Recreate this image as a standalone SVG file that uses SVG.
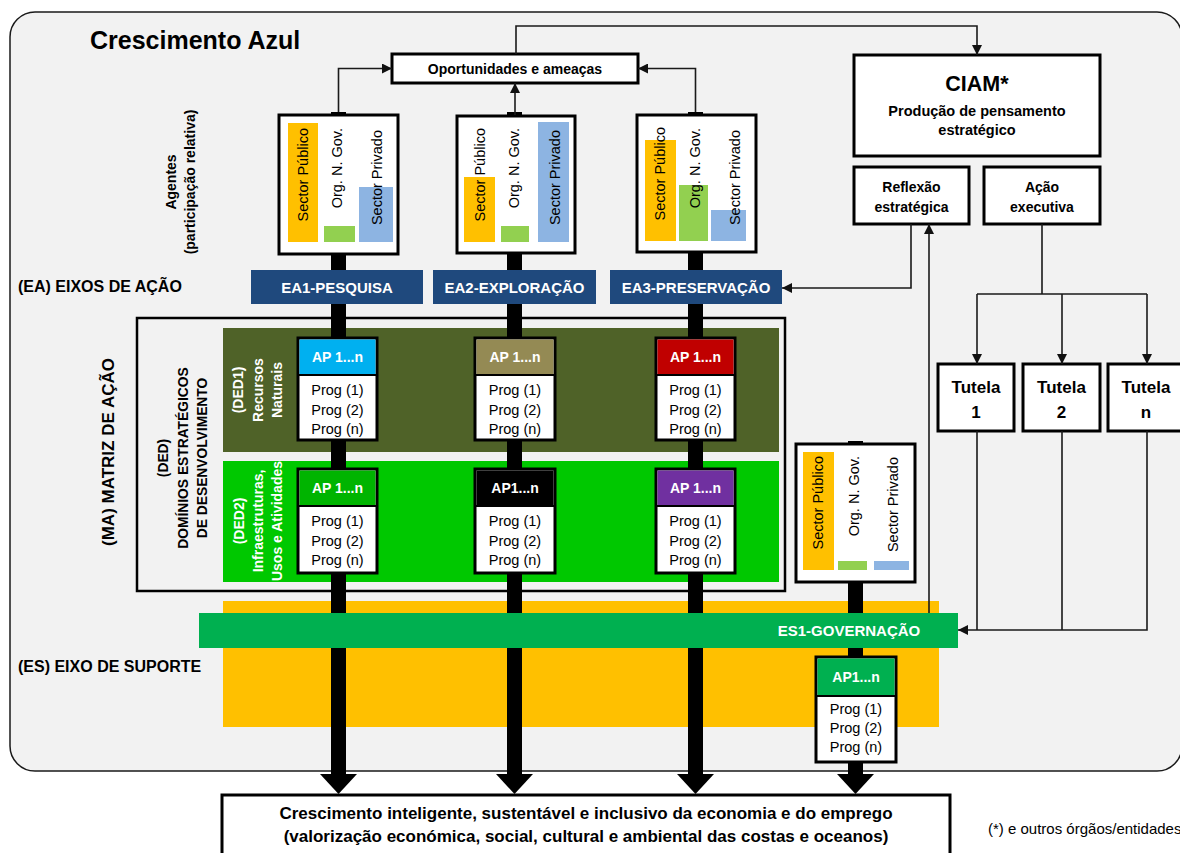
<svg xmlns="http://www.w3.org/2000/svg" width="1180" height="853" viewBox="0 0 1180 853">
<defs>
<marker id="ah" markerUnits="userSpaceOnUse" markerWidth="10" markerHeight="10" refX="10" refY="5" orient="auto">
<path d="M0,0 L10,5 L0,10 z" fill="#111"/>
</marker>
</defs>
<style>
text{font-family:"Liberation Sans",Arial,sans-serif;fill:#000}
.b{font-weight:bold}
.w{fill:#fff}
.box{fill:#fff;stroke:#000;stroke-width:3}
.ln{fill:none;stroke:#1a1a1a;stroke-width:1.6}
.bar{fill:#000}
.ea{fill:#1f497d}
.eat{font-weight:bold;font-size:15px;fill:#fff}
.ap{font-weight:bold;font-size:14px;fill:#fff}
.pg{font-size:14.5px}
.ag{font-size:14.5px}
.tut{font-weight:bold;font-size:17px}
</style>
<rect x="0" y="0" width="1180" height="853" fill="#fff"/>
<rect x="10" y="12" width="1172" height="759" rx="25" ry="25" fill="#f2f2f2" stroke="#1a1a1a" stroke-width="1.5"/>
<text class="b" x="90" y="49" font-size="25">Crescimento Azul</text>
<text class="b" x="18" y="292" font-size="16">(EA) EIXOS DE AÇÃO</text>
<text class="b" x="18" y="672" font-size="16">(ES) EIXO DE SUPORTE</text>
<text class="b" font-size="14" text-anchor="middle" transform="translate(176,182) rotate(-90)"><tspan x="0" y="0">Agentes</tspan><tspan x="0" y="19">(participação relativa)</tspan></text>
<text class="b" font-size="17" text-anchor="middle" transform="translate(114,452) rotate(-90)">(MA) MATRIZ DE AÇÃO</text>

<g id="es-area"><rect x="223" y="601" width="716" height="126" fill="#ffc000"/></g>
<g id="ma-box">
<rect x="137" y="318" width="648" height="273" fill="none" stroke="#000" stroke-width="2.5"/>
<text class="b" font-size="13.8" text-anchor="middle" transform="translate(168,458) rotate(-90)"><tspan x="0" y="0">(DED)</tspan><tspan x="0" y="19.5">DOMÍNIOS ESTRATÉGICOS</tspan><tspan x="0" y="39">DE DESENVOLVIMENTO</tspan></text>
</g>
<g id="ded1">
<rect x="223" y="328" width="556" height="124" fill="#4f6228"/>
<text class="b w" font-size="14" text-anchor="middle" transform="translate(243,390) rotate(-90)"><tspan x="0" y="0">(DED1)</tspan><tspan x="0" y="19.5">Recursos</tspan><tspan x="0" y="39">Naturais</tspan></text>
</g>
<g id="ded2">
<rect x="223" y="461" width="556" height="121" fill="#00c800"/>
<text class="b w" font-size="14" text-anchor="middle" transform="translate(244,521) rotate(-90)"><tspan x="0" y="0">(DED2)</tspan><tspan x="0" y="19">Infraestruturas,</tspan><tspan x="0" y="38">Usos e Atividades</tspan></text>
</g>

<g id="flows">
<rect class="bar" x="331" y="112" width="15" height="664"/>
<rect class="bar" x="507" y="112" width="15" height="664"/>
<rect class="bar" x="688" y="112" width="15" height="664"/>
<rect class="bar" x="848" y="441" width="15" height="335"/>
<polygon class="bar" points="320,774 357,774 338.5,794"/>
<polygon class="bar" points="496,774 533,774 514.5,794"/>
<polygon class="bar" points="677,774 714,774 695.5,794"/>
<polygon class="bar" points="837,774 874,774 855.5,794"/>
</g>

<g id="agents1">
<rect class="box" x="279" y="115" width="119" height="139"/>
<rect x="288" y="123" width="30" height="119" fill="#ffc000"/>
<rect x="324" y="226" width="31" height="16" fill="#92d050"/>
<rect x="359" y="187" width="34" height="55" fill="#8db4e2"/>
<text class="ag" text-anchor="end" transform="translate(308,128) rotate(-90)">Sector Público</text>
<text class="ag" text-anchor="end" transform="translate(342,128) rotate(-90)">Org. N. Gov.</text>
<text class="ag" text-anchor="end" transform="translate(382,130) rotate(-90)">Sector Privado</text>
</g>
<g id="agents2">
<rect class="box" x="457" y="116" width="118" height="137"/>
<rect x="464" y="177" width="31" height="65" fill="#ffc000"/>
<rect x="501" y="226" width="28" height="16" fill="#92d050"/>
<rect x="538" y="122" width="31" height="120" fill="#8db4e2"/>
<text class="ag" text-anchor="end" transform="translate(485,128) rotate(-90)">Sector Público</text>
<text class="ag" text-anchor="end" transform="translate(519,128) rotate(-90)">Org. N. Gov.</text>
<text class="ag" text-anchor="end" transform="translate(560,130) rotate(-90)">Sector Privado</text>
</g>
<g id="agents3">
<rect class="box" x="637" y="115" width="119" height="137"/>
<rect x="645" y="140" width="31" height="101" fill="#ffc000"/>
<rect x="679" y="185" width="29" height="56" fill="#92d050"/>
<rect x="711" y="210" width="35" height="31" fill="#8db4e2"/>
<text class="ag" text-anchor="end" transform="translate(665,127) rotate(-90)">Sector Público</text>
<text class="ag" text-anchor="end" transform="translate(700,128) rotate(-90)">Org. N. Gov.</text>
<text class="ag" text-anchor="end" transform="translate(740,130) rotate(-90)">Sector Privado</text>
</g>
<g id="agents4">
<rect class="box" x="796" y="444" width="119" height="138"/>
<rect x="803" y="452" width="31" height="118" fill="#ffc000"/>
<rect x="838" y="561" width="29" height="9" fill="#92d050"/>
<rect x="874" y="561" width="35" height="9" fill="#8db4e2"/>
<text class="ag" text-anchor="end" transform="translate(823,456) rotate(-90)">Sector Público</text>
<text class="ag" text-anchor="end" transform="translate(859,456) rotate(-90)">Org. N. Gov.</text>
<text class="ag" text-anchor="end" transform="translate(898,457) rotate(-90)">Sector Privado</text>
</g>

<g id="ea1"><rect class="ea" x="251" y="270" width="172" height="34"/><text class="eat" x="337" y="293" text-anchor="middle">EA1-PESQUISA</text></g>
<g id="ea2"><rect class="ea" x="433" y="270" width="163" height="34"/><text class="eat" x="514.5" y="293" text-anchor="middle">EA2-EXPLORAÇÃO</text></g>
<g id="ea3"><rect class="ea" x="610" y="270" width="172" height="34"/><text class="eat" x="696" y="293" text-anchor="middle">EA3-PRESERVAÇÃO</text></g>

<g id="es1"><rect x="199" y="613" width="759" height="35" fill="#00b050"/><text class="eat" x="849" y="636" text-anchor="middle">ES1-GOVERNAÇÃO</text></g>

<g id="ap-1-1">
<rect class="box" x="298" y="338" width="79" height="102"/>
<rect x="299.5" y="339.5" width="76" height="35" fill="#00b0f0"/>
<line x1="298" y1="375" x2="377" y2="375" stroke="#000" stroke-width="2"/>
<text class="ap" x="337.5" y="362" text-anchor="middle">AP 1...n</text>
<text class="pg" x="337.5" y="395" text-anchor="middle">Prog (1)</text>
<text class="pg" x="337.5" y="415" text-anchor="middle">Prog (2)</text>
<text class="pg" x="337.5" y="434" text-anchor="middle">Prog (n)</text>
</g>
<g id="ap-2-1">
<rect class="box" x="475" y="338" width="80" height="102"/>
<rect x="476.5" y="339.5" width="77" height="35" fill="#948a54"/>
<line x1="475" y1="375" x2="555" y2="375" stroke="#000" stroke-width="2"/>
<text class="ap" x="515" y="362" text-anchor="middle">AP 1...n</text>
<text class="pg" x="515" y="395" text-anchor="middle">Prog (1)</text>
<text class="pg" x="515" y="415" text-anchor="middle">Prog (2)</text>
<text class="pg" x="515" y="434" text-anchor="middle">Prog (n)</text>
</g>
<g id="ap-3-1">
<rect class="box" x="656" y="338" width="79" height="102"/>
<rect x="657.5" y="339.5" width="76" height="35" fill="#c00000"/>
<line x1="656" y1="375" x2="735" y2="375" stroke="#000" stroke-width="2"/>
<text class="ap" x="695.5" y="362" text-anchor="middle">AP 1...n</text>
<text class="pg" x="695.5" y="395" text-anchor="middle">Prog (1)</text>
<text class="pg" x="695.5" y="415" text-anchor="middle">Prog (2)</text>
<text class="pg" x="695.5" y="434" text-anchor="middle">Prog (n)</text>
</g>
<g id="ap-1-2">
<rect class="box" x="298" y="469" width="79" height="104"/>
<rect x="299.5" y="470.5" width="76" height="35" fill="#00b400"/>
<line x1="298" y1="506" x2="377" y2="506" stroke="#000" stroke-width="2"/>
<text class="ap" x="337.5" y="493" text-anchor="middle">AP 1...n</text>
<text class="pg" x="337.5" y="526" text-anchor="middle">Prog (1)</text>
<text class="pg" x="337.5" y="546" text-anchor="middle">Prog (2)</text>
<text class="pg" x="337.5" y="565" text-anchor="middle">Prog (n)</text>
</g>
<g id="ap-2-2">
<rect class="box" x="475" y="469" width="80" height="104"/>
<rect x="476.5" y="470.5" width="77" height="35" fill="#000"/>
<line x1="475" y1="506" x2="555" y2="506" stroke="#000" stroke-width="2"/>
<text class="ap" x="515" y="493" text-anchor="middle">AP1...n</text>
<text class="pg" x="515" y="526" text-anchor="middle">Prog (1)</text>
<text class="pg" x="515" y="546" text-anchor="middle">Prog (2)</text>
<text class="pg" x="515" y="565" text-anchor="middle">Prog (n)</text>
</g>
<g id="ap-3-2">
<rect class="box" x="656" y="469" width="79" height="104"/>
<rect x="657.5" y="470.5" width="76" height="35" fill="#7030a0"/>
<line x1="656" y1="506" x2="735" y2="506" stroke="#000" stroke-width="2"/>
<text class="ap" x="695.5" y="493" text-anchor="middle">AP 1...n</text>
<text class="pg" x="695.5" y="526" text-anchor="middle">Prog (1)</text>
<text class="pg" x="695.5" y="546" text-anchor="middle">Prog (2)</text>
<text class="pg" x="695.5" y="565" text-anchor="middle">Prog (n)</text>
</g>
<g id="ap-es1">
<rect class="box" x="816" y="657" width="80" height="105"/>
<rect x="817.5" y="658.5" width="77" height="37" fill="#00b050"/>
<line x1="816" y1="696" x2="896" y2="696" stroke="#000" stroke-width="2"/>
<text class="ap" x="856" y="682" text-anchor="middle">AP1...n</text>
<text class="pg" x="856" y="714" text-anchor="middle">Prog (1)</text>
<text class="pg" x="856" y="733" text-anchor="middle">Prog (2)</text>
<text class="pg" x="856" y="752" text-anchor="middle">Prog (n)</text>
</g>

<g id="oportunidades">
<rect class="box" x="392" y="54" width="246" height="29"/>
<text class="b" x="515" y="74" font-size="14" text-anchor="middle">Oportunidades e ameaças</text>
</g>
<g id="ciam">
<rect class="box" x="854" y="55" width="246" height="101"/>
<text class="b" x="977" y="91" font-size="21.5" text-anchor="middle">CIAM*</text>
<text class="b" x="977" y="116" font-size="14.5" text-anchor="middle">Produção de pensamento</text>
<text class="b" x="977" y="135" font-size="14.5" text-anchor="middle">estratégico</text>
</g>
<g id="reflexao">
<rect class="box" x="854" y="167" width="115" height="57"/>
<text class="b" x="911.5" y="192" font-size="14" text-anchor="middle">Reflexão</text>
<text class="b" x="911.5" y="212" font-size="14" text-anchor="middle">estratégica</text>
</g>
<g id="acao">
<rect class="box" x="984" y="167" width="116" height="57"/>
<text class="b" x="1042" y="192" font-size="14" text-anchor="middle">Ação</text>
<text class="b" x="1042" y="212" font-size="14" text-anchor="middle">executiva</text>
</g>
<g id="tutela1"><rect class="box" x="938" y="364" width="76" height="67"/><text class="tut" x="976" y="393" text-anchor="middle">Tutela</text><text class="tut" x="976" y="418" text-anchor="middle">1</text></g>
<g id="tutela2"><rect class="box" x="1023" y="364" width="77" height="67"/><text class="tut" x="1061.5" y="393" text-anchor="middle">Tutela</text><text class="tut" x="1061.5" y="418" text-anchor="middle">2</text></g>
<g id="tutelan"><rect class="box" x="1108" y="364" width="80" height="67"/><text class="tut" x="1146" y="393" text-anchor="middle">Tutela</text><text class="tut" x="1146" y="418" text-anchor="middle">n</text></g>

<g id="connectors">
<path class="ln" d="M338.5,112 V68.5 H392" marker-end="url(#ah)"/>
<path class="ln" d="M515,115 V83" marker-end="url(#ah)"/>
<path class="ln" d="M695.5,112 V68.5 H638" marker-end="url(#ah)"/>
<path class="ln" d="M516,54 V26 H977 V55" marker-end="url(#ah)"/>
<path class="ln" d="M911,224 V288 H782" marker-end="url(#ah)"/>
<path class="ln" d="M929,613 V224" marker-end="url(#ah)"/>
<path class="ln" d="M1042,224 V294 M977,294 H1147"/>
<path class="ln" d="M977,294 V364" marker-end="url(#ah)"/>
<path class="ln" d="M1062,294 V364" marker-end="url(#ah)"/>
<path class="ln" d="M1147,294 V364" marker-end="url(#ah)"/>
<path class="ln" d="M977,431 V630 M1062,431 V630"/>
<path class="ln" d="M1147,431 V630 H958" marker-end="url(#ah)"/>
</g>

<g id="resultado">
<rect class="box" x="222" y="795" width="728" height="64"/>
<text class="b" x="586" y="819" font-size="17" text-anchor="middle">Crescimento inteligente, sustentável e inclusivo da economia e do emprego</text>
<text class="b" x="586" y="842" font-size="17" text-anchor="middle">(valorização económica, social, cultural e ambiental das costas e oceanos)</text>
</g>
<text x="988" y="834" font-size="15">(*) e outros órgãos/entidades</text>
</svg>
